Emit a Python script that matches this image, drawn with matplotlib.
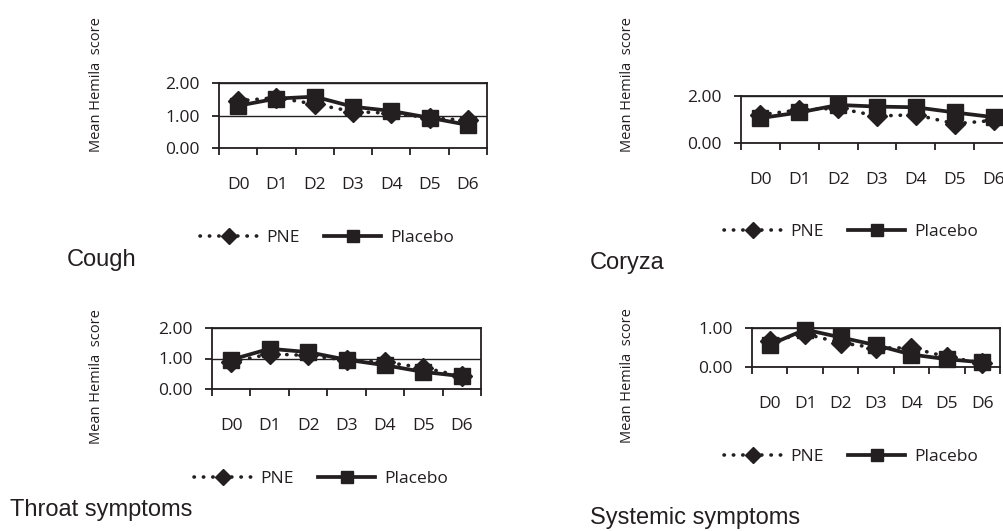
import numpy as np
import matplotlib
matplotlib.use("Agg")
import matplotlib.pyplot as plt

plt.rcParams["font.family"] = "Open Sans"

days = ["D0", "D1", "D2", "D3", "D4", "D5", "D6"]

cough_pne = [1.45, 1.55, 1.35, 1.12, 1.07, 0.93, 0.85]
cough_placebo = [1.30, 1.52, 1.58, 1.27, 1.14, 0.93, 0.71]
coryza_pne = [1.20, 1.41, 1.48, 1.15, 1.20, 0.82, 0.96]
coryza_placebo = [1.06, 1.30, 1.62, 1.55, 1.52, 1.30, 1.10]
throat_pne = [0.88, 1.15, 1.10, 0.95, 0.88, 0.70, 0.42]
throat_placebo = [0.96, 1.32, 1.21, 0.96, 0.78, 0.56, 0.42]
systemic_pne = [0.66, 0.85, 0.62, 0.49, 0.49, 0.26, 0.10]
systemic_placebo = [0.57, 0.96, 0.76, 0.56, 0.32, 0.20, 0.12]

W, H = 1004, 531
INK = "#231f20"

fig = plt.figure(figsize=(W / 100, H / 100), dpi=100)
fig.patch.set_facecolor("white")

# panel placement in pixels: plot box, y label, legend, caption
panels = [
    dict(title="Cough", pne=cough_pne, placebo=cough_placebo,
         box=(219, 487, 83, 148), ymax=2, yticks=[0, 1, 2],
         ylab=(97, 85), leg=(327, 238), cap=(67, 260)),
    dict(title="Coryza", pne=coryza_pne, placebo=coryza_placebo,
         box=(741, 1013, 96, 143), ymax=2, yticks=[0, 2],
         ylab=(628, 85), leg=(851, 232), cap=(590, 263)),
    dict(title="Throat symptoms", pne=throat_pne, placebo=throat_placebo,
         box=(212, 481, 328, 389), ymax=2, yticks=[0, 1, 2],
         ylab=(97, 377), leg=(321, 479), cap=(10, 510)),
    dict(title="Systemic symptoms", pne=systemic_pne, placebo=systemic_placebo,
         box=(752, 1000, 328, 367), ymax=1, yticks=[0, 1],
         ylab=(628, 376), leg=(851, 457), cap=(590, 518)),
]

x = np.arange(len(days))

for p in panels:
    x0, x1, yt, yb = p["box"]
    ax = fig.add_axes([x0 / W, 1 - yb / H, (x1 - x0) / W, (yb - yt) / H])

    ax.plot(x, p["pne"], color=INK, lw=2.6, ls=(0, (0.1, 2.5)),
            dash_capstyle="round", marker="D", ms=10.5, label="PNE",
            zorder=3, clip_on=False)
    ax.plot(x, p["placebo"], color=INK, lw=2.7, ls="-", marker="s", ms=11.5,
            label="Placebo", zorder=4, clip_on=False)

    ax.set_xlim(-0.5, len(days) - 0.5)
    ax.set_ylim(0, p["ymax"])

    # category axis: ticks between categories, labels in the middle
    ax.set_xticks(np.arange(-0.5, len(days), 1))
    ax.set_xticklabels([])
    ax.set_xticks(x, minor=True)
    ax.set_xticklabels(days, minor=True)
    ax.tick_params(axis="x", which="major", direction="out", length=5,
                   width=1.3, color=INK)
    ax.tick_params(axis="x", which="minor", length=0, pad=21,
                   labelsize=12.5, labelcolor=INK)

    ax.set_yticks(p["yticks"])
    ax.set_yticklabels([f"{v:.2f}" for v in p["yticks"]])
    ax.tick_params(axis="y", direction="out", length=5, width=1.3,
                   pad=9, labelsize=12.5, labelcolor=INK, color=INK)
    ax.yaxis.grid(True, color=INK, lw=1)
    ax.set_axisbelow(True)

    for s in ax.spines.values():
        s.set_color(INK)
        s.set_linewidth(1.3)

    lx, ly = p["ylab"]
    fig.text(lx / W, 1 - ly / H, "Mean Hemila  score", rotation=90,
             ha="center", va="center", fontsize=10.5, color=INK)

    cx, cy = p["leg"]
    ax.legend(loc="center", bbox_to_anchor=(cx / W, 1 - cy / H),
              bbox_transform=fig.transFigure, ncol=2, frameon=False,
              fontsize=12.5, numpoints=1, handlelength=3.3, markerscale=0.75,
              handletextpad=0.5, columnspacing=1.4, labelcolor=INK)

    tx, ty = p["cap"]
    fig.text(tx / W, 1 - ty / H, p["title"], ha="left", va="center",
             fontsize=17, family="Liberation Sans", color=INK)

fig.savefig("out.png", dpi=100, facecolor="white")
